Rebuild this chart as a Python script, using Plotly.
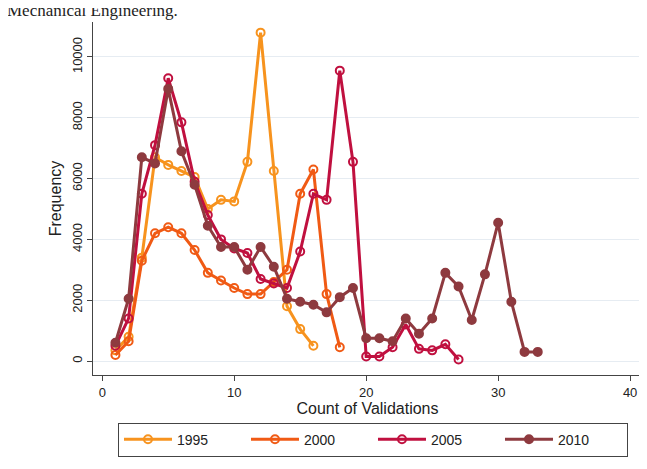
import plotly.graph_objects as go

x1995 = list(range(1, 17))
y1995 = [350, 800, 3400, 6700, 6450, 6250, 6050, 5000, 5300, 5250, 6550, 10800, 6250, 1800, 1050, 500]
x2000 = list(range(1, 19))
y2000 = [200, 650, 3300, 4200, 4400, 4200, 3650, 2900, 2650, 2400, 2200, 2200, 2600, 3000, 5500, 6300, 2200, 450]
x2005 = list(range(1, 28))
y2005 = [500, 1400, 5500, 7100, 9300, 7850, 5900, 4800, 4000, 3700, 3550, 2700, 2550, 2400, 3600, 5500, 5300, 9550, 6550, 150, 150, 450, 1200, 400, 350, 550, 50]
x2010 = list(range(1, 34))
y2010 = [600, 2050, 6700, 6500, 8950, 6900, 5800, 4450, 3750, 3750, 3000, 3750, 3100, 2050, 1950, 1850, 1600, 2100, 2400, 750, 750, 650, 1400, 900, 1400, 2900, 2450, 1350, 2850, 4550, 1950, 300, 300]

series = [("1995", x1995, y1995, "#F7931E", "circle-open"),
          ("2000", x2000, y2000, "#F05A14", "circle-open"),
          ("2005", x2005, y2005, "#C0103F", "circle-open"),
          ("2010", x2010, y2010, "#8E3A3F", "circle")]

fig = go.Figure()
for name, x, y, c, sym in series:
    fig.add_trace(go.Scatter(x=x, y=y, name=name, mode="lines+markers",
                             line=dict(color=c, width=3),
                             marker=dict(color=c, symbol=sym, size=8, line=dict(width=2, color=c))))

fig.update_layout(
    width=639, height=461, paper_bgcolor="white", plot_bgcolor="white",
    margin=dict(l=85, r=5, t=14, b=94, autoexpand=False),
    font=dict(family="Liberation Sans", size=13, color="#222"),
    xaxis=dict(range=[-0.7, 40.9], tickvals=[0, 10, 20, 30, 40], showgrid=False, zeroline=False,
               showline=True, linecolor="#444", ticks="outside", ticklen=5, automargin=False,
               title=dict(text="Count of Validations", standoff=2)),
    yaxis=dict(range=[-460, 11150], tickvals=[0, 2000, 4000, 6000, 8000, 10000], tickformat="d",
               tickangle=-90, automargin=False,
               showgrid=True, gridcolor="#E6ECF2", zeroline=False, showline=True, linecolor="#444",
               ticks="outside", ticklen=5, title=dict(text="Frequency", standoff=4)),
    legend=dict(orientation="h", x=0.51, xanchor="center", y=-0.135, yanchor="top",
                bordercolor="#444", borderwidth=1, font=dict(size=14),
                entrywidthmode="pixels", entrywidth=64, itemwidth=48),
    showlegend=True,
)
fig.add_annotation(text="Mechanical Engineering.", xref="paper", yref="paper", x=-0.16, y=1.0,
                   xanchor="left", yanchor="bottom", showarrow=False,
                   font=dict(family="Liberation Serif", size=17))
fig.write_html("out.html")
